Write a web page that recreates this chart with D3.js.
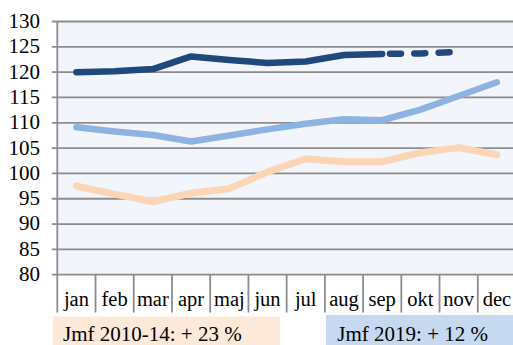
<!DOCTYPE html>
<html>
<head>
<meta charset="utf-8">
<script src="https://cdn.jsdelivr.net/npm/d3@7"></script>
<style>
  html, body { margin: 0; padding: 0; background: #ffffff; }
  svg { display: block; }
</style>
</head>
<body>
<svg id="chart" width="513" height="345"></svg>
<script>
// Monthly index values
const months = ["jan", "feb", "mar", "apr", "maj", "jun", "jul", "aug", "sep", "okt", "nov", "dec"];
const yTicks = [80, 85, 90, 95, 100, 105, 110, 115, 120, 125, 130];

// Current year: solid through sep, forecast sep–nov dashed
const seriesCurrent = [119.9, 120.1, 120.5, 123.0, 122.3, 121.7, 122.0, 123.3, 123.5, null, null, null];
const seriesForecast = [null, null, null, null, null, null, null, null, 123.5, 123.6, 123.9, null];
const series2019 = [109.0, 108.2, 107.5, 106.2, 107.4, 108.6, 109.7, 110.6, 110.4, 112.5, 115.2, 117.9];
const series2010_14 = [97.4, 95.8, 94.3, 96.0, 96.9, 100.2, 102.8, 102.2, 102.2, 104.0, 105.0, 103.6];

const noteLeft = "Jmf 2010-14: + 23 %";
const noteRight = "Jmf 2019: + 12 %";

const FONT = "'Liberation Serif', 'Times New Roman', Times, 'DejaVu Serif', serif";

const svg = d3.select("#chart").attr("font-family", FONT);
const plot = { left: 57.3, right: 516, top: 21, bottom: 274.2 };

const x = d3.scaleBand().domain(months).range([plot.left, plot.right]).paddingInner(0).paddingOuter(0);
const y = d3.scaleLinear().domain([80, 130]).range([plot.bottom, plot.top]);

// Plot background
svg.append("rect")
  .attr("x", plot.left).attr("y", plot.top)
  .attr("width", plot.right - plot.left).attr("height", plot.bottom - plot.top)
  .attr("fill", "#f2f5fb");

// Horizontal gridlines with short ticks to the left
const gridColor = "#8c8c8c";
const yAxis = d3.axisLeft(y).tickValues(yTicks).tickSize(-(plot.right - plot.left)).tickPadding(0).tickFormat("");
const gy = svg.append("g").attr("transform", `translate(${plot.left},0)`).call(yAxis);
gy.select(".domain").remove();
gy.selectAll(".tick line")
  .attr("x1", -5.5)
  .attr("stroke", gridColor).attr("stroke-width", 1.8);

// Y tick labels
svg.append("g").selectAll("text")
  .data(yTicks).join("text")
  .attr("x", 40).attr("y", d => y(d))
  .attr("dy", "0.33em")
  .attr("text-anchor", "end")
  .attr("font-family", FONT)
  .attr("font-size", 21)
  .attr("fill", "#000")
  .text(d => d);

// Vertical axis line
svg.append("line")
  .attr("x1", plot.left).attr("x2", plot.left)
  .attr("y1", plot.top).attr("y2", 312.5)
  .attr("stroke", gridColor).attr("stroke-width", 1.8);

// Category separators below the axis
const sepPositions = months.map(m => x(m) + x.bandwidth());
svg.append("g").selectAll("line")
  .data(sepPositions).join("line")
  .attr("x1", d => d).attr("x2", d => d)
  .attr("y1", plot.bottom).attr("y2", 312.5)
  .attr("stroke", gridColor).attr("stroke-width", 1.8);

// Month labels
svg.append("g").selectAll("text")
  .data(months).join("text")
  .attr("x", d => x(d) + x.bandwidth() / 2)
  .attr("y", 305.5)
  .attr("text-anchor", "middle")
  .attr("font-family", FONT)
  .attr("font-size", 20.5)
  .attr("fill", "#000")
  .text(d => d);

// Lines
const line = d3.line()
  .defined(d => d.v != null)
  .x(d => x(d.m) + x.bandwidth() / 2)
  .y(d => y(d.v));
const pts = arr => months.map((m, i) => ({ m, v: arr[i] == null ? null : arr[i] }));

svg.append("path").datum(pts(series2010_14))
  .attr("d", line).attr("fill", "none")
  .attr("stroke", "#fcd5b4").attr("stroke-width", 7)
  .attr("stroke-linecap", "round").attr("stroke-linejoin", "round");

svg.append("path").datum(pts(series2019))
  .attr("d", line).attr("fill", "none")
  .attr("stroke", "#8db3e2").attr("stroke-width", 6.5)
  .attr("stroke-linecap", "round").attr("stroke-linejoin", "round");

svg.append("path").datum(pts(seriesCurrent))
  .attr("d", line).attr("fill", "none")
  .attr("stroke", "#1f497d").attr("stroke-width", 6.5)
  .attr("stroke-linecap", "round").attr("stroke-linejoin", "round");

svg.append("path").datum(pts(seriesForecast))
  .attr("d", line).attr("fill", "none")
  .attr("stroke", "#1f497d").attr("stroke-width", 6.5)
  .attr("stroke-linecap", "round").attr("stroke-linejoin", "round")
  .attr("stroke-dasharray", "11,13.3")
  .attr("stroke-dashoffset", 16.5);

// Note boxes
svg.append("rect")
  .attr("x", 52.7).attr("y", 316.5).attr("width", 227.5).attr("height", 30)
  .attr("fill", "#fde9d9");
svg.append("text")
  .attr("x", 63).attr("y", 340.5)
  .attr("font-family", FONT)
  .attr("font-size", 21)
  .attr("fill", "#000")
  .text(noteLeft);

svg.append("rect")
  .attr("x", 326).attr("y", 315).attr("width", 190).attr("height", 32)
  .attr("fill", "#c6d9f1");
svg.append("text")
  .attr("x", 337.3).attr("y", 340.5)
  .attr("font-family", FONT)
  .attr("font-size", 21)
  .attr("fill", "#000")
  .text(noteRight);
</script>
</body>
</html>
